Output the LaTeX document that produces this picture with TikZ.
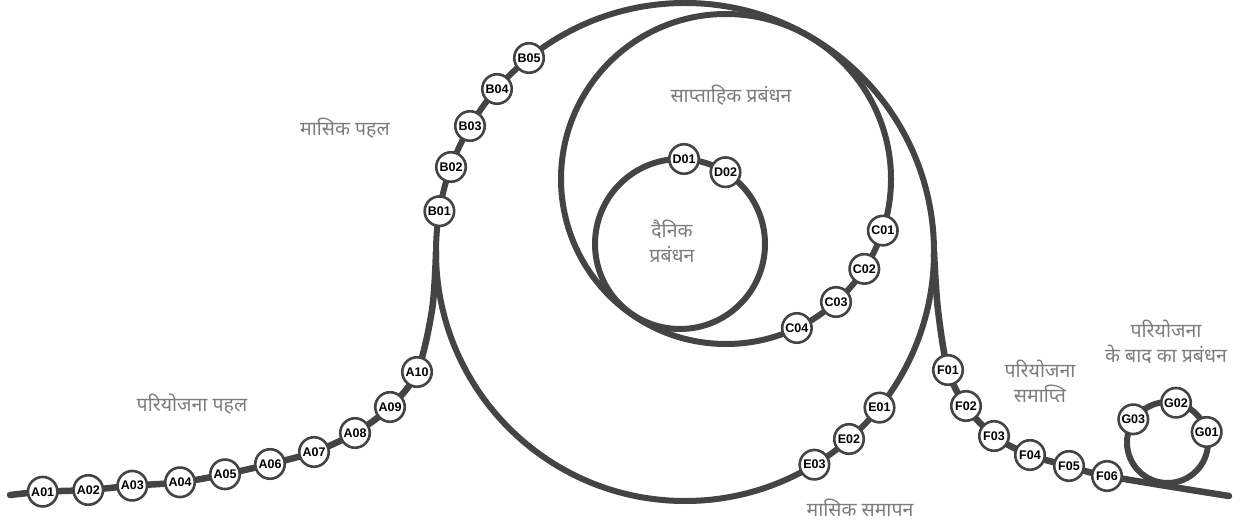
\documentclass[tikz,border=0pt]{standalone}
\usepackage{fontspec}
\newfontfamily\labfont{Liberation Sans}
\newfontfamily\devafont[Script=Devanagari]{Noto Sans}
\definecolor{trackc}{HTML}{444444}
\definecolor{txtc}{HTML}{7C7C7C}
\begin{document}
\begin{tikzpicture}[x=1pt,y=-1pt,
 track/.style={draw=trackc, line width=6.5pt, line cap=round},
 ring/.style={draw=trackc, line width=6pt},
 stn/.style={circle, draw=trackc, line width=2.6pt, fill=white, minimum size=29.5pt, inner sep=0pt, font=\labfont\bfseries\fontsize{12.5}{14}\selectfont},
 lbl/.style={text=txtc, font=\devafont\fontsize{19.5}{25}\selectfont, align=center}]
\useasboundingbox (0,0) rectangle (1242,529);
% circle centres
\coordinate (bigc) at (685,252);
\coordinate (weekc) at (726,179);
\coordinate (dayc) at (680,244);
\coordinate (postc) at (1167.5,442.5);
% left track points
\coordinate (s0) at (10,495);
\coordinate (a01) at (42.7,491.7);
\coordinate (a02) at (88.3,490);
\coordinate (a03) at (132.3,485.7);
\coordinate (a04) at (180,482.3);
\coordinate (a05) at (225,474.3);
\coordinate (a06) at (270,464);
\coordinate (a07) at (314,452);
\coordinate (a08) at (355,433);
\coordinate (a09) at (390,407);
\coordinate (a10) at (417,372);
\coordinate (l1) at (432,310);
\coordinate (l2) at (436,252);
% right track points
\coordinate (r0) at (934,252);
\coordinate (r1) at (938,310);
\coordinate (f01) at (948,370);
\coordinate (f02) at (966,406);
\coordinate (f03) at (994,436);
\coordinate (f04) at (1030,455);
\coordinate (f05) at (1069,466);
\coordinate (f06) at (1107,476);
\coordinate (r2) at (1229,496);
% rings
\draw[ring] (bigc) circle[radius=249pt];
\draw[ring] (weekc) circle[radius=165pt];
\draw[ring] (dayc) circle[radius=85pt];
\draw[ring] (postc) circle[radius=40.5pt];
% tracks
\draw[track] plot[smooth, tension=0.55] coordinates {(s0) (a01) (a02) (a03) (a04) (a05) (a06) (a07) (a08) (a09) (a10) (l1) (l2)};
\draw[track] plot[smooth, tension=0.55] coordinates {(r0) (r1) (f01) (f02) (f03) (f04) (f05) (f06) (r2)};
% stations
\foreach \n/\c in {A01/a01,A02/a02,A03/a03,A04/a04,A05/a05,A06/a06,A07/a07,A08/a08,A09/a09,A10/a10,F01/f01,F02/f02,F03/f03,F04/f04,F05/f05,F06/f06}
  \node[stn] (\n) at (\c) {\n};
\node[stn] (B01) at (439.4,211.2) {B01};
\node[stn] (B02) at (451,167) {B02};
\node[stn] (B03) at (470,126) {B03};
\node[stn] (B04) at (497,89) {B04};
\node[stn] (B05) at (529,58) {B05};
\node[stn] (C01) at (882.8,230.6) {C01};
\node[stn] (C02) at (864.3,268.9) {C02};
\node[stn] (C03) at (836,302) {C03};
\node[stn] (C04) at (796.9,328) {C04};
\node[stn] (D01) at (684,159) {D01};
\node[stn] (D02) at (725.5,172.2) {D02};
\node[stn] (E01) at (879.5,407.6) {E01};
\node[stn] (E02) at (849,439) {E02};
\node[stn] (E03) at (814.4,464.7) {E03};
\node[stn] (G01) at (1206.7,432) {G01};
\node[stn] (G02) at (1176,402.7) {G02};
\node[stn] (G03) at (1133.3,419.3) {G03};
% labels
\node[lbl] (t1) at (345,128) {मासिक पहल};
\node[lbl] (t2) at (731,95) {साप्ताहिक प्रबंधन};
\node[lbl] (t3) at (672,241) {दैनिक\\प्रबंधन};
\node[lbl] (t4) at (192,404) {परियोजना पहल};
\node[lbl] (t5) at (860,508) {मासिक समापन};
\node[lbl] (t6) at (1040,381) {परियोजना\\समाप्ति};
\node[lbl] (t7) at (1166,342) {परियोजना\\के बाद का प्रबंधन};
\end{tikzpicture}
\end{document}
